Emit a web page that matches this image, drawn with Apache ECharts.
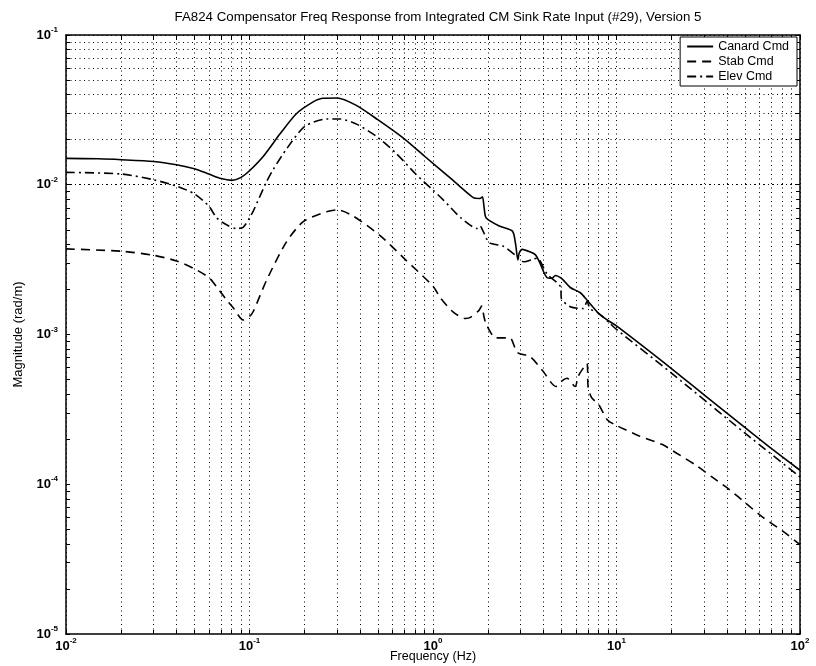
<!DOCTYPE html>
<html><head><meta charset="utf-8">
<script src="https://cdn.jsdelivr.net/npm/echarts@6/dist/echarts.min.js"></script>
<style>html,body{margin:0;padding:0;background:#fff}#c{width:816px;height:666px}</style>
</head><body><div id="c"></div>
<script>
const titleText = 'FA824 Compensator Freq Response from Integrated CM Sink Rate Input (#29), Version 5';
const xName = 'Frequency (Hz)';
const yName = 'Magnitude (rad/m)';
const seriesNames = ['Canard Cmd', 'Stab Cmd', 'Elev Cmd'];

const canardFreq = [0.01,0.015,0.02,0.03,0.04,0.05,0.06,0.07,0.08,0.09,0.1,0.12,0.146,0.18,0.22,0.25,0.3,0.38,0.5,0.7,0.9,1.24,1.42,1.66,1.8,1.86,1.9,1.95,2.3,2.71,2.82,2.9,2.95,3.07,3.4,3.62,3.78,4.18,4.46,4.64,5.05,5.6,6.35,6.9,8.0,8.9,10,20,30,50,70,100];
const canardMag  = [0.0150,0.0149,0.0147,0.0143,0.0136,0.0128,0.0118,0.0110,0.0107,0.0112,0.0124,0.0157,0.0217,0.0298,0.0355,0.0378,0.0380,0.0340,0.0272,0.0202,0.0155,0.0111,0.0096,0.0082,0.0081,0.0083,0.0070,0.0060,0.0053,0.0049,0.0040,0.00315,0.0035,0.0037,0.00355,0.0034,0.0031,0.0024,0.00238,0.00248,0.00235,0.00206,0.0019,0.0017,0.00138,0.00125,0.00114,5.9e-4,3.95e-4,2.4e-4,1.73e-4,1.24e-4];

const stabFreq = [0.01,0.02,0.03,0.04,0.05,0.06,0.0663,0.075,0.0815,0.0923,0.1,0.105,0.124,0.159,0.197,0.263,0.3,0.366,0.515,0.7,1.0,1.1,1.29,1.5,1.6,1.78,1.84,1.9,1.95,2.2,2.62,2.88,3.39,3.97,4.67,5.05,5.37,5.95,6.2,6.9,7.0,7.3,8.0,8.9,9.8,11.2,13.3,17.8,21.3,27.1,33.4,41.1,50.6,62.3,79.9,100];
const stabMag  = [0.00373,0.0036,0.00338,0.0031,0.00275,0.0024,0.00208,0.0017,0.00151,0.00125,0.00132,0.00143,0.00231,0.00415,0.0057,0.0066,0.0068,0.0062,0.00458,0.0032,0.0021,0.00175,0.00141,0.00128,0.0013,0.00145,0.00155,0.0013,0.00117,0.00095,0.00095,0.00076,0.00071,0.00057,0.00045,0.00049,0.00051,0.00045,0.00053,0.00064,0.00045,0.00038,0.00034,0.00027,0.00025,0.000231,0.00021,0.000184,0.000161,0.000134,0.000111,9.24e-5,7.48e-5,6.05e-5,4.9e-5,3.95e-5];

const elevFreq = [0.01,0.02,0.03,0.04,0.05,0.06,0.0663,0.075,0.085,0.0923,0.1,0.105,0.124,0.135,0.16,0.2,0.263,0.31,0.383,0.49,0.63,0.81,1.0,1.14,1.42,1.75,1.81,1.86,2.03,2.4,2.8,3.13,3.5,3.7,4.18,4.97,5.0,5.6,6.6,6.9,7.2,7.9,9,10,20,50,100];
const elevMag  = [0.0121,0.0118,0.0108,0.0098,0.0087,0.0072,0.0060,0.0054,0.0051,0.0052,0.0060,0.0067,0.0105,0.0127,0.0175,0.0245,0.0275,0.0275,0.0254,0.0211,0.0162,0.0117,0.0092,0.0079,0.0060,0.0051,0.0053,0.0050,0.0041,0.0039,0.0034,0.00306,0.00318,0.00323,0.00254,0.00206,0.00175,0.00153,0.00149,0.00166,0.00148,0.00140,0.00122,0.00108,5.5e-4,2.2e-4,1.12e-4];

const xMajorTicks = [0.01,0.1,1,10,100];
const yMajorTicks = [1e-5,1e-4,1e-3,1e-2,1e-1];

function gridValues(lo, hi){ const out=[]; for(let e=lo;e<hi;e++){ for(let m=1;m<=9;m++){ out.push(+(m*Math.pow(10,e)).toPrecision(3)); } } out.push(Math.pow(10,hi)); return out; }
const xGrid = gridValues(-2,2);
const yGrid = gridValues(-5,-1);

function zip(a,b){ return a.map((v,i)=>[v,b[i]]); }
function expLabel(v){ const e=Math.round(Math.log10(v)); return '{b|10}{s|'+e+'}'; }
const rich = { b:{fontFamily:'Liberation Sans',fontSize:13,color:'#000',fontWeight:'bold'}, s:{fontFamily:'Liberation Sans',fontSize:8,color:'#000',fontWeight:'bold',verticalAlign:'top',padding:[0,0,10,0]} };

const chart = echarts.init(document.getElementById('c'), null, {renderer:'canvas'});
const dotted = {color:'#000', width:1, type:[1,3.5]};

const gridSeries = {
  type:'line', data:[], silent:true, xAxisIndex:0, yAxisIndex:0, z:1,
  markLine:{ silent:true, symbol:'none', label:{show:false}, animation:false,
    lineStyle:dotted,
    data: xGrid.map(v=>({xAxis:v})).concat(yGrid.map(v=>({yAxis:v})))
  }
};

chart.setOption({
  animation:false,
  backgroundColor:'#fff',
  title:{ text:titleText, left:433, textAlign:'center', top:6, textStyle:{fontFamily:'Liberation Sans', fontSize:13.3, fontWeight:'normal', color:'#000'} },
  grid: {left:66, right:16, top:35, bottom:32, containLabel:false, outerBoundsMode:'none'},
  legend:{ right:19, top:37, zlevel:1, z:50, orient:'vertical', backgroundColor:'#fff', borderColor:'#000', borderWidth:1, borderRadius:0, padding:[3,8,3,6], itemGap:2, itemWidth:26, itemHeight:12,
    itemStyle:{opacity:0, borderWidth:0},
    textStyle:{fontFamily:'Liberation Sans', fontSize:12.5, color:'#000'}, data:seriesNames },
  xAxis:[{ type:'log', min:0.01, max:100, logBase:10, position:'bottom',
    name:xName, nameLocation:'middle', nameGap:16, nameMoveOverlap:false, nameTextStyle:{fontFamily:'Liberation Sans', fontSize:12.5, color:'#000', verticalAlign:'top'},
    axisLine:{onZero:false, lineStyle:{color:'#000', width:1.5}},
    axisTick:{inside:true, length:4, lineStyle:{color:'#000'}, customValues:xGrid},
    axisLabel:{customValues:xMajorTicks, formatter:expLabel, rich:rich, margin:3},
    splitLine:{show:false} },
   { type:'log', min:0.01, max:100, position:'top',
    axisLine:{onZero:false, lineStyle:{color:'#000', width:1.5}},
    axisTick:{inside:true, length:4, lineStyle:{color:'#000'}, customValues:xGrid},
    axisLabel:{show:false}, splitLine:{show:false} }],
  yAxis:[{ type:'log', min:1e-5, max:1e-1, position:'left',
    name:yName, nameLocation:'middle', nameGap:41, nameMoveOverlap:false, nameTextStyle:{fontFamily:'Liberation Sans', fontSize:13, color:'#000'},
    axisLine:{onZero:false, lineStyle:{color:'#000', width:1.5}},
    axisTick:{inside:true, length:4, lineStyle:{color:'#000'}, customValues:yGrid},
    axisLabel:{customValues:yMajorTicks, formatter:expLabel, rich:rich, margin:8},
    splitLine:{show:false} },
   { type:'log', min:1e-5, max:1e-1, position:'right',
    axisLine:{onZero:false, lineStyle:{color:'#000', width:1.5}},
    axisTick:{inside:true, length:4, lineStyle:{color:'#000'}, customValues:yGrid},
    axisLabel:{show:false}, splitLine:{show:false} }],
  series:[
    gridSeries,
    { name:seriesNames[0], type:'line', z:3, data:zip(canardFreq,canardMag), showSymbol:false, symbol:'none', smooth:0.25, lineStyle:{color:'#000', width:1.6, type:'solid'}, itemStyle:{color:'#000'} },
    { name:seriesNames[1], type:'line', z:3, data:zip(stabFreq,stabMag), showSymbol:false, symbol:'none', smooth:0.25, lineStyle:{color:'#000', width:1.6, type:[9,6]}, itemStyle:{color:'#000'} },
    { name:seriesNames[2], type:'line', z:3, data:zip(elevFreq,elevMag), showSymbol:false, symbol:'none', smooth:0.25, lineStyle:{color:'#000', width:1.6, type:[9,4,2,4]}, itemStyle:{color:'#000'} }
  ]
});
</script></body></html>
